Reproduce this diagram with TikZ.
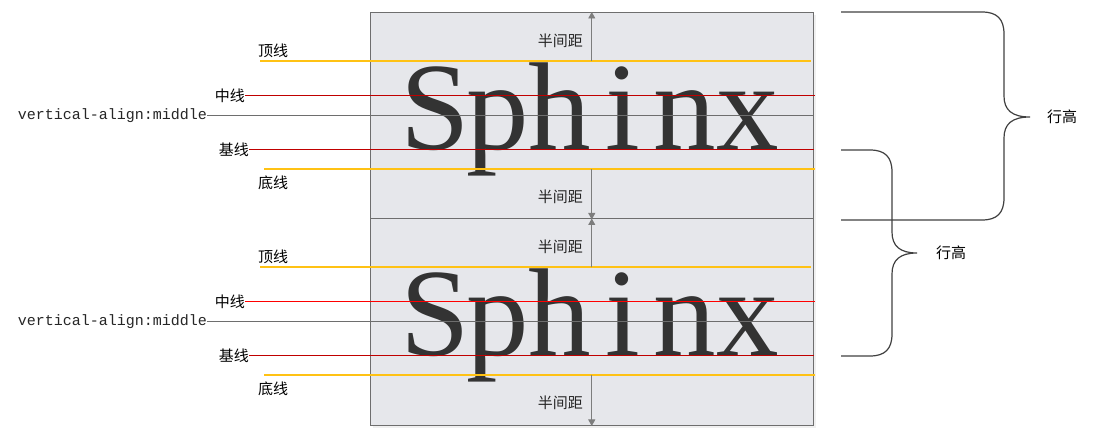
\documentclass[tikz,border=0pt]{standalone}
\usepackage{fontspec}
\newfontfamily\cjk{Noto Sans CJK SC}
\newfontfamily\specimen{Liberation Serif}
\setmonofont{Liberation Mono}
\usetikzlibrary{arrows.meta,positioning,calc}
\definecolor{lhPanel}{RGB}{230,231,235}
\definecolor{lhFrame}{RGB}{110,110,110}
\definecolor{lhArrow}{RGB}{125,125,125}
\definecolor{lhGold}{RGB}{255,194,20}
\definecolor{lhRed}{RGB}{255,0,0}
\definecolor{lhDarkRed}{RGB}{192,0,0}
\definecolor{lhInk}{RGB}{51,51,51}
\definecolor{lhBrace}{RGB}{64,64,64}
\newcommand\glyphcell[1]{\makebox[62.5pt]{#1}}

\begin{document}
\begin{tikzpicture}[x=1pt,y=-1pt,
  lbl/.style={font=\cjk\fontsize{15}{18}\selectfont,inner sep=0pt},
  code/.style={font=\ttfamily\fontsize{15}{16}\selectfont,inner sep=0pt,text=black!85},
  panel/.style={draw=lhFrame,fill=lhPanel,line width=1pt,minimum width=442.5pt,
                minimum height=206.5pt,anchor=north west,inner sep=0pt},
  specimen/.style={font=\specimen\fontsize{125}{125}\selectfont,text=lhInk,
                   inner sep=0pt,anchor=base},
  gold/.style={draw=lhGold,line width=2.4pt},
  hair/.style={line width=0.9pt},
  gap/.style={draw=lhArrow,line width=0.9pt,-{Triangle[length=6.5pt,width=7pt]}},
  brace/.style={draw=lhBrace,line width=1.2pt}]
\useasboundingbox (0,0) rectangle (1104,438);
% panels
\fill[black!6] (373,15) rectangle (816,428);
\node[panel] (boxA) at (370,12) {};
\node[panel] (boxB) at (370,218.5) {};

\foreach \b/\dy/\mc in {A/0/lhDarkRed,B/206/lhRed}{
  \node[specimen] (word\b) at (591.3,149.6+\dy)
    {\glyphcell{S}\glyphcell{p}\glyphcell{h}\glyphcell{i}\glyphcell{n}\glyphcell{x}};
  % top and bottom lines
  \coordinate (topL\b) at (260,61.2+\dy);
  \coordinate (topR\b) at (811,61.2+\dy);
  \coordinate (botL\b) at (264,169.2+\dy);
  \coordinate (botR\b) at (815,169.2+\dy);
  \node[lbl,above right=3pt and -2pt of topL\b] (ding\b) {顶线};
  \node[lbl,below right=6pt and -6pt of botL\b] (di\b) {底线};
  \draw[gold] (topL\b) -- (topR\b);
  \draw[gold] (botL\b) -- (botR\b);
  % middle, align and base lines
  \coordinate (midR\b) at (815,95.4+\dy);
  \coordinate (vamR\b) at (813,115.3+\dy);
  \coordinate (baseR\b) at (814,149.6+\dy);
  \node[lbl,anchor=east] (zhong\b) at (245,95.4+\dy) {中线};
  \node[code,anchor=east] (valign\b) at (207,115.3+\dy) {vertical-align:middle};
  \node[lbl,anchor=east] (ji\b) at (249,149.6+\dy) {基线};
  \draw[hair,draw=\mc] (zhong\b.east) -- (midR\b);
  \draw[hair,draw=lhFrame] (valign\b.east) -- (vamR\b);
  \draw[hair,draw=lhDarkRed] (ji\b.east) -- (baseR\b);
  % half leading
  \draw[gap] (topL\b -| box\b.north) -- (box\b.north);
  \draw[gap] (botL\b -| box\b.south) -- (box\b.south);
  \node[lbl,anchor=east,text=black!85] (halfT\b) at (583,41+\dy) {半间距};
  \node[lbl,anchor=east,text=black!85] (halfB\b) at (583,196.7+\dy) {半间距};
}

% line height braces
\coordinate (tipA) at (1030,117);
\coordinate (tipB) at (917,253);
\draw[brace] (841,12) -- (982,12) .. controls (997,12) and (1004,19) .. (1004,34)
  -- (1004,96) .. controls (1004,110) and (1012,117) .. (tipA)
  .. controls (1012,117) and (1004,124) .. (1004,138)
  -- (1004,198) .. controls (1004,213) and (997,220) .. (982,220) -- (841,220);
\draw[brace] (841,150) -- (870,150) .. controls (885,150) and (892,157) .. (892,172)
  -- (892,232) .. controls (892,246) and (900,253) .. (tipB)
  .. controls (900,253) and (892,260) .. (892,274)
  -- (892,334) .. controls (892,349) and (885,356) .. (870,356) -- (841,356);
\node[lbl,right=17pt of tipA] (hangA) {行高};
\node[lbl,right=19pt of tipB] (hangB) {行高};
\end{tikzpicture}
\end{document}
